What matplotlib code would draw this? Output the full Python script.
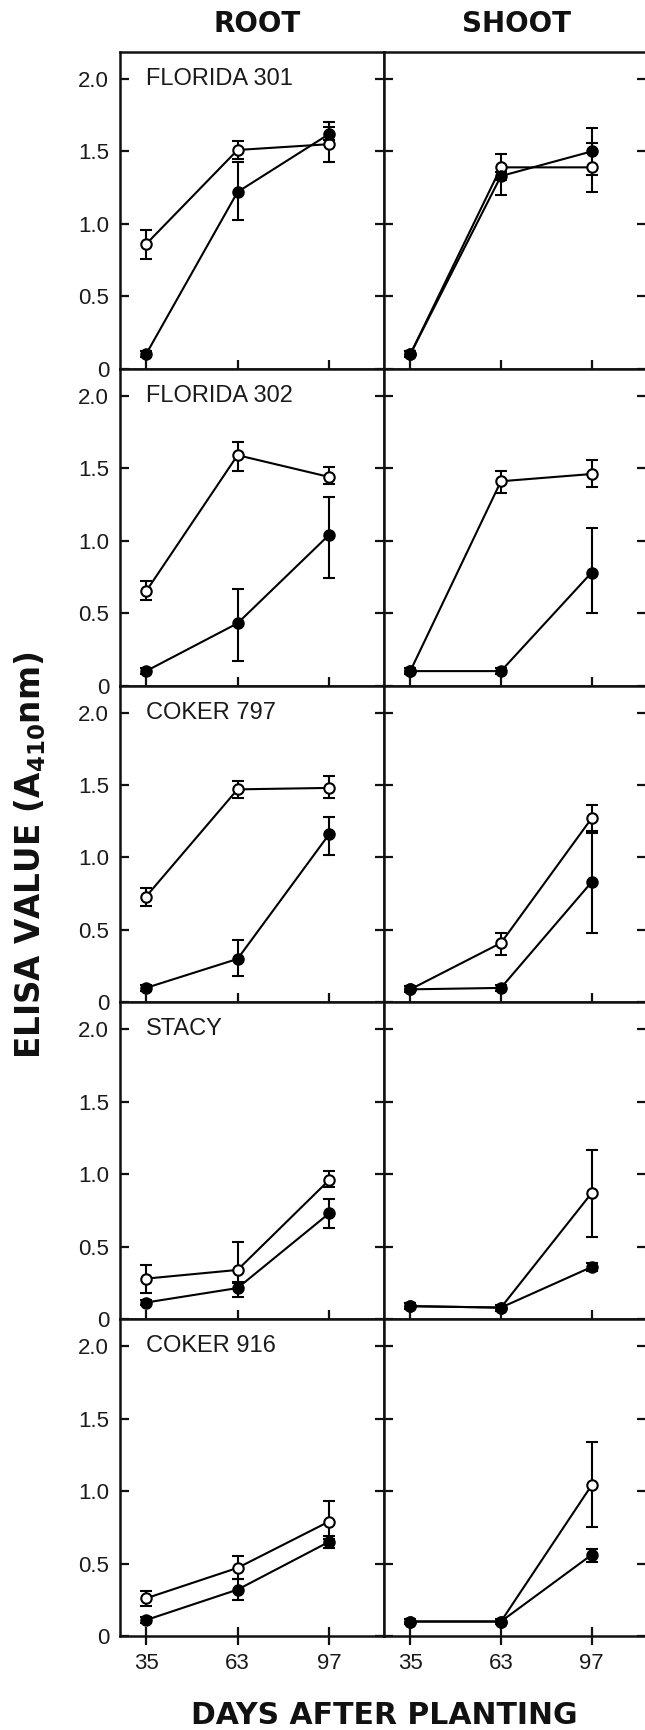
import matplotlib
matplotlib.use("Agg")
import matplotlib.pyplot as plt
import matplotlib.transforms as mtransforms
import numpy as np

# sampling days (plotted as equally spaced categories)
days = ["35", "63", "97"]
varieties = ["FLORIDA 301", "FLORIDA 302", "COKER 797", "STACY", "COKER 916"]

# ROOT - open circles: mean, bottom and top of error bar
root_open = [[0.86, 1.51, 1.55], [0.65, 1.59, 1.44], [0.73, 1.47, 1.48], [0.28, 0.34, 0.96], [0.26, 0.47, 0.79]]
root_open_lo = [[0.76, 1.45, 1.43], [0.59, 1.48, 1.39], [0.665, 1.41, 1.41], [0.18, 0.25, 0.91], [0.21, 0.39, 0.67]]
root_open_hi = [[0.96, 1.57, 1.67], [0.72, 1.68, 1.51], [0.79, 1.53, 1.56], [0.375, 0.535, 1.02], [0.31, 0.55, 0.93]]

# ROOT - filled circles
root_fill = [[0.10, 1.22, 1.62], [0.10, 0.43, 1.04], [0.10, 0.30, 1.16], [0.115, 0.215, 0.73], [0.11, 0.32, 0.65]]
root_fill_lo = [[0.08, 1.03, 1.58], [0.08, 0.17, 0.74], [0.08, 0.18, 1.02], [0.095, 0.15, 0.63], [0.09, 0.25, 0.61]]
root_fill_hi = [[0.12, 1.43, 1.70], [0.12, 0.67, 1.30], [0.12, 0.43, 1.28], [0.135, 0.26, 0.83], [0.13, 0.39, 0.69]]

# SHOOT - open circles
shoot_open = [[0.10, 1.39, 1.39], [0.10, 1.41, 1.46], [0.09, 0.41, 1.27], [0.09, 0.08, 0.87], [0.10, 0.10, 1.04]]
shoot_open_lo = [[0.08, 1.20, 1.22], [0.08, 1.33, 1.37], [0.07, 0.33, 1.18], [0.07, 0.06, 0.57], [0.08, 0.08, 0.75]]
shoot_open_hi = [[0.12, 1.48, 1.56], [0.12, 1.48, 1.56], [0.11, 0.48, 1.36], [0.11, 0.10, 1.17], [0.12, 0.12, 1.34]]

# SHOOT - filled circles
shoot_fill = [[0.10, 1.33, 1.50], [0.10, 0.10, 0.78], [0.09, 0.10, 0.83], [0.09, 0.08, 0.36], [0.10, 0.10, 0.56]]
shoot_fill_lo = [[0.08, 1.30, 1.34], [0.08, 0.08, 0.50], [0.07, 0.08, 0.48], [0.07, 0.06, 0.33], [0.08, 0.08, 0.51]]
shoot_fill_hi = [[0.12, 1.36, 1.66], [0.12, 0.12, 1.09], [0.11, 0.12, 1.17], [0.11, 0.10, 0.39], [0.12, 0.12, 0.60]]

yticks = [0, 0.5, 1.0, 1.5, 2.0]
ytick_labels = ["0", "0.5", "1.0", "1.5", "2.0"]

W, H = 645, 1730
fig = plt.figure(figsize=(W / 100, H / 100), dpi=100)

tick_font = dict(family="Liberation Sans", size=16, color="#1a1a1a")
head_font = dict(family="DejaVu Sans", weight="bold", color="#111111")

left_px = [119.5, 384]
width_px = [264.5, 262]
top_px, bottom_px = 52, 1636
panel_h = (bottom_px - top_px) / 5

x = np.arange(len(days))


def draw_series(ax, mean, lo, hi, face):
    mean = np.array(mean)
    yerr = [mean - np.array(lo), np.array(hi) - mean]
    ax.errorbar(x, mean, yerr=yerr, fmt="-o", color="black", lw=1.5,
                mfc=face, mec="black", mew=1.5, ms=7.5,
                elinewidth=1.5, capsize=4, capthick=1.5, zorder=3)


for row in range(5):
    for col in range(2):
        y0 = (H - (top_px + (row + 1) * panel_h)) / H
        ax = fig.add_axes([left_px[col] / W, y0, width_px[col] / W, panel_h / H])
        ax.set_xlim(-0.29, 2.60)
        ax.set_ylim(0, 2.186)

        if col == 0:
            draw_series(ax, root_open[row], root_open_lo[row], root_open_hi[row], "white")
            draw_series(ax, root_fill[row], root_fill_lo[row], root_fill_hi[row], "black")
            trans = mtransforms.blended_transform_factory(ax.transAxes, ax.transData)
            ax.text(0.10, 2.0, varieties[row], transform=trans, ha="left", va="center",
                    fontsize=17, family="Liberation Sans", color="#1a1a1a")
        else:
            draw_series(ax, shoot_open[row], shoot_open_lo[row], shoot_open_hi[row], "white")
            draw_series(ax, shoot_fill[row], shoot_fill_lo[row], shoot_fill_hi[row], "black")

        for s in ax.spines.values():
            s.set_linewidth(1.8)
            s.set_color("#111111")

        ax.set_yticks(yticks)
        ax.tick_params(axis="y", direction="in", left=True, right=True,
                       length=6.5, width=1.6, pad=7.5, color="#111111")
        if col == 0:
            ax.set_yticklabels(ytick_labels, fontdict=tick_font)
        else:
            ax.set_yticklabels([])

        ax.set_xticks(x)
        ax.tick_params(axis="x", direction="inout", bottom=True, top=False,
                       length=13, width=1.6, pad=6, color="#111111")
        if row == 4:
            ax.set_xticklabels(days, fontdict=tick_font)
        else:
            ax.set_xticklabels([])

fig.text(257 / W, 1 - 24 / H, "ROOT", ha="center", va="center", fontsize=20, **head_font)
fig.text(516 / W, 1 - 24 / H, "SHOOT", ha="center", va="center", fontsize=20, **head_font)
fig.text(384 / W, 1 - 1716 / H, "DAYS AFTER PLANTING", ha="center", va="center",
         fontsize=21.5, **head_font)
fig.text(30 / W, 1 - 855 / H, r"ELISA VALUE (A$_{\mathbf{410}}$nm)", ha="center", va="center",
         rotation=90, fontsize=23.5, **head_font)

fig.savefig("out.png", dpi=100)
